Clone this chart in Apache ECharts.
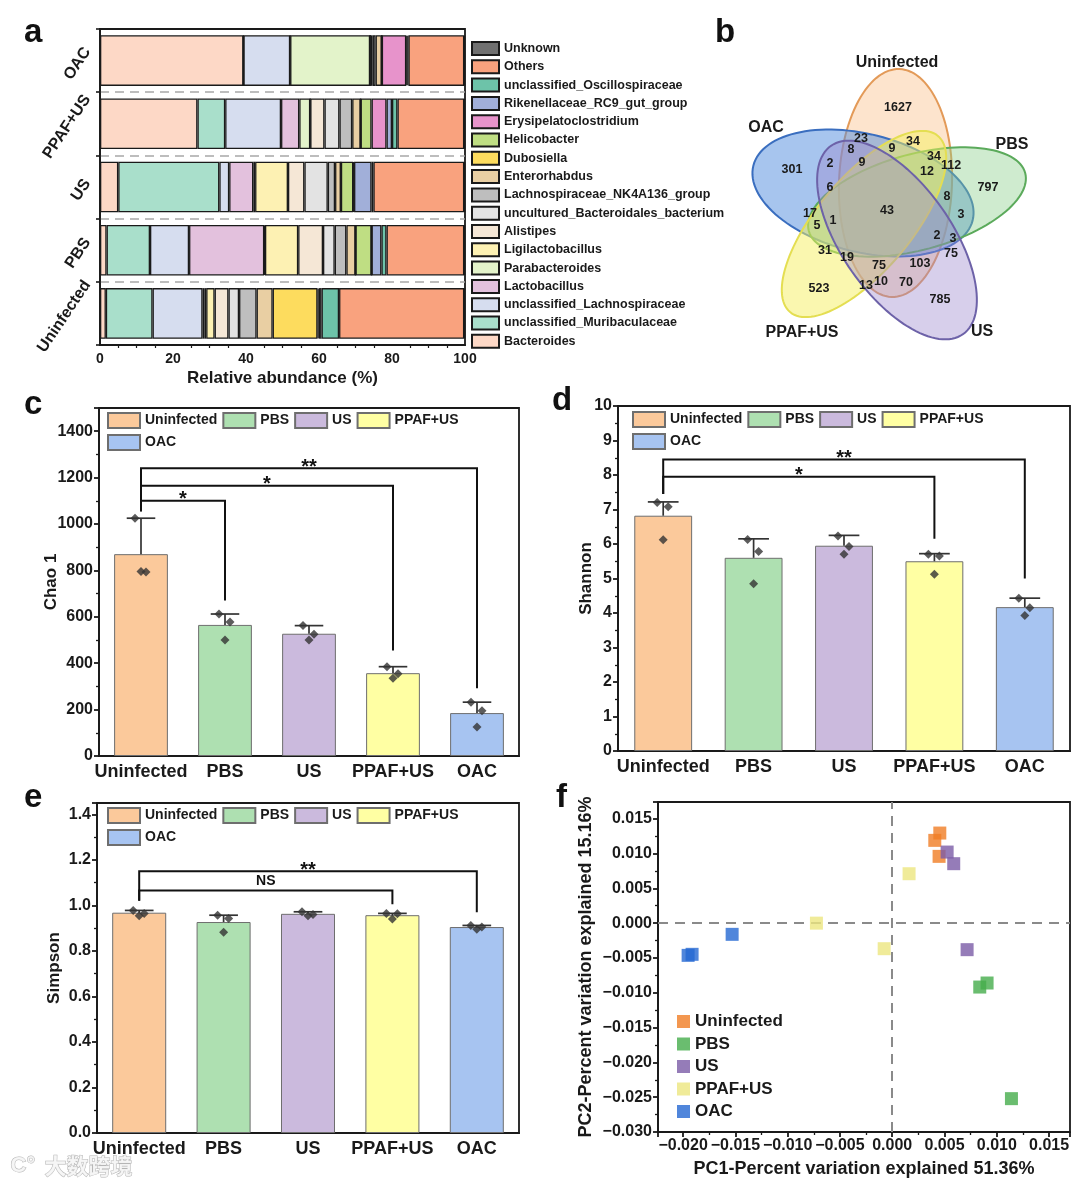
<!DOCTYPE html>
<html><head><meta charset="utf-8">
<script src="https://cdn.jsdelivr.net/npm/echarts@6/dist/echarts.min.js"></script>
<style>html,body{margin:0;padding:0;background:#fff}#c{width:1080px;height:1188px}</style>
</head><body><div id="c"></div>
<script>
const FONT = '"Liberation Sans", Arial, Helvetica, sans-serif';
const INK = '#1a1a1a';

// ---------- Panel a : relative abundance (%) ----------
const groupsA = ['Uninfected', 'PBS', 'US', 'PPAF+US', 'OAC'];
const taxa = ['Bacteroides', 'unclassified_Muribaculaceae', 'unclassified_Lachnospiraceae', 'Lactobacillus',
  'Parabacteroides', 'Ligilactobacillus', 'Alistipes', 'uncultured_Bacteroidales_bacterium',
  'Lachnospiraceae_NK4A136_group', 'Enterorhabdus', 'Dubosiella', 'Helicobacter', 'Erysipelatoclostridium',
  'Rikenellaceae_RC9_gut_group', 'unclassified_Oscillospiraceae', 'Others', 'Unknown'];
const taxaColors = ['#FDD8C6', '#A9DFCB', '#D6DDEF', '#E3C1DD', '#E3F3CA', '#FDF1B3', '#F5E7D6', '#E3E3E3',
  '#BEBEBE', '#E9CFA3', '#FDDC5E', '#BFDE83', '#E793CB', '#A1AFD9', '#6DC3A9', '#F9A27E', '#707070'];
const abUninfected = [1.6, 12.8, 13.7, 0.5, 0.5, 2.3, 3.8, 2.9, 4.8, 4.4, 12.3, 0.3, 0.4, 0.4, 4.8, 34.3, 0.2];
const abPBS        = [1.8, 11.9, 10.7, 20.6, 0.2, 9.1, 6.8, 3.2, 3.2, 2.5, 0.0, 4.4, 0.0, 2.7, 1.4, 21.3, 0.2];
const abUS         = [5.0, 27.7, 2.7, 6.6, 0.5, 9.0, 4.5, 6.4, 2.0, 1.6, 0.0, 3.4, 0.2, 4.8, 0.5, 24.9, 0.2];
const abPPAF       = [26.7, 7.6, 15.3, 5.0, 3.0, 0.0, 3.9, 4.1, 3.5, 2.3, 0.0, 3.0, 4.1, 1.5, 1.5, 18.3, 0.2];
const abOAC        = [39.3, 0.0, 12.8, 0.0, 21.9, 0.0, 0.0, 0.7, 0.8, 1.7, 0.0, 0.0, 6.7, 0.3, 0.3, 15.3, 0.2];

// ---------- Panel b : Venn ----------
const vennSets = ['Uninfected', 'OAC', 'PBS', 'PPAF+US', 'US'];
const vennCounts = [1627, 23, 34, 8, 9, 2, 9, 34, 112, 12, 301, 797, 6, 8, 43, 3, 17, 5, 1, 2, 3, 75, 31, 19, 75, 103, 13, 10, 70, 523, 785];
// layout (venn region label anchor points, local px)
const vennPos = [[178,68],[141,99],[193,102],[131,110],[172,109],[110,124],[142,123],[214,117],[231,126],[207,132],
  [72,130],[268,148],[110,148],[227,157],[167,171],[241,175],[90,174],[97,186],[113,181],[217,196],[233,199],
  [231,214],[105,211],[127,218],[159,226],[200,224],[146,246],[161,242],[186,243],[99,249],[220,260]];
const vennEllipses = [[175.5,143,114,56.5,92],[143,153,113,59,14],[197,162,112,48,-15],[144,184,115,47,-50],[177,200,115,55,55]];
const vennSetLabelPos = [[177,23],[46,88],[292,105],[82,293],[262,292]];
const vennFill = ['rgba(250,196,145,0.45)','rgba(80,140,222,0.50)','rgba(135,205,135,0.40)','rgba(246,240,95,0.50)','rgba(155,135,205,0.40)'];
const vennStroke = ['#E39A58','#3A6EBF','#5BAA5B','#E4DE52','#6D62A8'];

// ---------- Panels c-e : alpha diversity ----------
const groups = ['Uninfected', 'PBS', 'US', 'PPAF+US', 'OAC'];
const barColors = ['#FBC99B', '#AEE0B1', '#CBBADD', '#FFFFA3', '#A7C4F1'];
const chaoMean = [870, 565, 527, 357, 185];
const chaoSD = [155, 47, 35, 28, 47];
const chaoPts = [[1025, 793, 795], [612, 578, 500], [562, 525, 500], [385, 355, 335], [232, 195, 125]];
const chaoSig = [[0, 1, 1100, 1055, 670], [0, 3, 1165, 1055, 455], [0, 4, 1240, 1055, 292]];
const chaoSigText = ['*', '*', '**'];

const shanMean = [6.82, 5.60, 5.95, 5.50, 4.17];
const shanSD = [0.40, 0.55, 0.30, 0.22, 0.26];
const shanPts = [[7.20, 7.08, 6.12], [6.13, 5.78, 4.85], [6.23, 5.93, 5.70], [5.70, 5.65, 5.12], [4.43, 4.15, 3.93]];
const shanSig = [[0, 3, 7.95, 7.45, 6.15], [0, 4, 8.45, 7.45, 5.0]];
const shanSigText = ['*', '**'];

const simpMean = [0.968, 0.927, 0.963, 0.957, 0.905];
const simpSD = [0.010, 0.030, 0.009, 0.008, 0.007];
const simpPts = [[0.978, 0.965, 0.955], [0.957, 0.942, 0.882], [0.972, 0.960, 0.955], [0.965, 0.963, 0.940], [0.912, 0.905, 0.895]];
const simpSig = [[0, 3, 1.065, 1.02, 1.005], [0, 4, 1.15, 1.02, 0.97]];
const simpSigText = ['NS', '**'];

// ---------- Panel f : PCoA ----------
const pcGroups = ['Uninfected', 'PBS', 'US', 'PPAF+US', 'OAC'];
const pcColors = ['#F07D24', '#45AD4B', '#7B5BA6', '#ECE680', '#2468D2'];
const pcUninfected = [[0.00455, 0.01294], [0.00407, 0.01189], [0.00448, 0.00959]];
const pcPBS = [[0.00837, -0.00918], [0.00907, -0.00860], [0.01140, -0.02521]];
const pcUS = [[0.00525, 0.01021], [0.00588, 0.00854], [0.00716, -0.00381]];
const pcPPAF = [[0.00161, 0.00710], [-0.00725, 0.00000], [-0.00077, -0.00367]];
const pcOAC = [[-0.01952, -0.00463], [-0.01914, -0.00448], [-0.01531, -0.00161]];

// ================= build option =================
const JIT = [-6, 5, 0];
const bold = (size, extra) => Object.assign({fontFamily: FONT, fontWeight: 'bold', fontSize: size, color: INK}, extra || {});
const axLine = {show: true, onZero: false, lineStyle: {color: INK, width: 1.8}};
const measureCtx = document.createElement('canvas').getContext('2d');
function textWidth(t, font) { measureCtx.font = font; return measureCtx.measureText(t).width; }
const pcFmt = v => Math.abs(v) < 1e-9 ? '0.000' : (v < 0 ? '\u2212' : '') + Math.abs(v).toFixed(3);

const grids = [
  {left: 100, top: 29, width: 365, height: 316, show: true, borderColor: INK, borderWidth: 1.8},
  {left: 720, top: 40, width: 360, height: 310},
  {left: 99, top: 408, width: 420, height: 348, show: true, borderColor: INK, borderWidth: 1.8},
  {left: 618, top: 406, width: 452, height: 345, show: true, borderColor: INK, borderWidth: 1.8},
  {left: 97, top: 803, width: 422, height: 330, show: true, borderColor: INK, borderWidth: 1.8},
  {left: 658, top: 802, width: 412, height: 330, show: true, borderColor: INK, borderWidth: 1.8}
].map(g => Object.assign({containLabel: false, outerBoundsMode: 'none', backgroundColor: 'transparent'}, g));

function catX(gi) {
  return {gridIndex: gi, type: 'category', data: groups, axisLine: axLine,
    axisTick: {alignWithLabel: true, length: 5, lineStyle: {width: 1.8, color: INK}},
    axisLabel: Object.assign(bold(18), {interval: 0, margin: 7}), splitLine: {show: false}};
}
function valY(gi, max, interval, name, gap, fmt, showMax) {
  return {gridIndex: gi, type: 'value', min: 0, max: max, interval: interval, axisLine: axLine,
    axisTick: {show: true, length: 5, lineStyle: {width: 1.8, color: INK}},
    minorTick: {show: true, splitNumber: 2, length: 3, lineStyle: {width: 1.3, color: INK}},
    splitLine: {show: false},
    axisLabel: Object.assign(bold(16), {margin: 6, showMaxLabel: showMax, formatter: fmt}),
    name: name, nameLocation: 'middle', nameGap: gap, nameMoveOverlap: false, nameTextStyle: bold(17)};
}

const xAxes = [
  {gridIndex: 0, type: 'value', min: 0, max: 100, interval: 20, axisLine: axLine,
    axisTick: {length: 5, lineStyle: {width: 1.6, color: INK}},
    minorTick: {show: true, splitNumber: 4, length: 3, lineStyle: {width: 1.2, color: INK}},
    splitLine: {show: false}, axisLabel: Object.assign(bold(14), {margin: 7}),
    name: 'Relative abundance (%)', nameLocation: 'middle', nameGap: 25, nameTextStyle: bold(17)},
  {gridIndex: 1, type: 'value', min: 0, max: 360, show: false},
  catX(2), catX(3), catX(4),
  {gridIndex: 5, type: 'value', min: -0.0224, max: 0.0170, splitNumber: 7, axisLine: axLine,
    axisTick: {length: 5, lineStyle: {width: 1.8, color: INK}},
    minorTick: {show: true, splitNumber: 2, length: 3, lineStyle: {width: 1.3, color: INK}},
    splitLine: {show: false},
    axisLabel: Object.assign(bold(16), {margin: 6, showMinLabel: false, showMaxLabel: false, formatter: pcFmt}),
    name: 'PC1-Percent variation explained 51.36%', nameLocation: 'middle', nameGap: 28, nameTextStyle: bold(18)}
];
const yAxes = [
  {gridIndex: 0, type: 'category', data: groupsA, axisLine: axLine,
    axisTick: {show: true, length: 4, lineStyle: {width: 1.6, color: INK}},
    splitLine: {show: true, showMinLine: false, showMaxLine: false, lineStyle: {color: '#a8a8a8', width: 1.6, type: [9, 6]}},
    axisLabel: {show: false}},
  {gridIndex: 1, type: 'value', min: 0, max: 310, inverse: true, show: false},
  valY(2, 1500, 200, 'Chao 1', 39, v => String(v), false),
  valY(3, 10, 1, 'Shannon', 23, v => String(v), true),
  valY(4, 1.45, 0.2, 'Simpson', 34, v => v.toFixed(1), false),
  {gridIndex: 5, type: 'value', min: -0.030, max: 0.0174, interval: 0.005, axisLine: axLine,
    axisTick: {length: 5, lineStyle: {width: 1.8, color: INK}},
    minorTick: {show: true, splitNumber: 2, length: 3, lineStyle: {width: 1.3, color: INK}},
    splitLine: {show: false},
    axisLabel: Object.assign(bold(16), {margin: 6, showMaxLabel: false, formatter: pcFmt}),
    name: 'PC2-Percent variation explained 15.16%', nameLocation: 'middle', nameGap: 63, nameMoveOverlap: false,
    nameTextStyle: bold(18)}
];

const series = [];

// panel a stacked bars
const abByGroup = [abUninfected, abPBS, abUS, abPPAF, abOAC];
taxa.forEach((t, ti) => {
  series.push({name: t, type: 'bar', stack: 'abund', xAxisIndex: 0, yAxisIndex: 0, barWidth: '80%',
    itemStyle: {color: taxaColors[ti], borderColor: '#1a1a1a', borderWidth: 1.3},
    data: abByGroup.map(arr => arr[ti]), z: 3});
});
// panel a rotated category labels (bbox right-aligned to the axis, centred on the category)
series.push({type: 'custom', name: 'a-labels', xAxisIndex: 0, yAxisIndex: 0, silent: true, clip: false,
  data: groupsA.map((g, i) => [0, i]),
  renderItem: (params, api) => {
    const p = api.coord([0, api.value(1)]);
    const txt = groupsA[params.dataIndex];
    const fs = 16, th = 56 * Math.PI / 180;
    const L = textWidth(txt, 'bold ' + fs + 'px ' + FONT);
    const w = L * Math.cos(th) + fs * 0.85 * Math.sin(th);
    return {type: 'text', x: p[0] - 7 - w / 2, y: p[1] + 3, rotation: th,
      style: {text: txt, fontFamily: FONT, fontWeight: 'bold', fontSize: fs, fill: INK,
        align: 'center', verticalAlign: 'middle'}};
  }, z: 5});

// panel b venn
series.push({type: 'custom', name: 'venn-ellipses', xAxisIndex: 1, yAxisIndex: 1, silent: true,
  data: vennEllipses,
  renderItem: (params, api) => {
    const c = api.coord([api.value(0), api.value(1)]);
    const sz = api.size([api.value(2), api.value(3)]);
    const a = sz[0], b = sz[1], th = api.value(4) * Math.PI / 180;
    const pts = [];
    for (let k = 0; k < 120; k++) {
      const t = k / 120 * 2 * Math.PI;
      const ex = a * Math.cos(t), ey = b * Math.sin(t);
      pts.push([c[0] + ex * Math.cos(th) - ey * Math.sin(th), c[1] + ex * Math.sin(th) + ey * Math.cos(th)]);
    }
    return {type: 'polygon', shape: {points: pts},
      style: {fill: vennFill[params.dataIndex], stroke: vennStroke[params.dataIndex], lineWidth: 2}};
  }, z: 2});
series.push({type: 'custom', name: 'venn-counts', xAxisIndex: 1, yAxisIndex: 1, silent: true,
  data: vennCounts.map((v, i) => [vennPos[i][0], vennPos[i][1], v]),
  renderItem: (params, api) => {
    const c = api.coord([api.value(0), api.value(1)]);
    return {type: 'text', x: c[0], y: c[1], style: {text: String(api.value(2)), fontFamily: FONT,
      fontWeight: 'bold', fontSize: 12.5, fill: INK, align: 'center', verticalAlign: 'middle'}};
  }, z: 4});
series.push({type: 'custom', name: 'venn-sets', xAxisIndex: 1, yAxisIndex: 1, silent: true,
  data: vennSets.map((s, i) => [vennSetLabelPos[i][0], vennSetLabelPos[i][1]]),
  renderItem: (params, api) => {
    const c = api.coord([api.value(0), api.value(1)]);
    return {type: 'text', x: c[0], y: c[1], style: {text: vennSets[params.dataIndex], fontFamily: FONT,
      fontWeight: 'bold', fontSize: 16, fill: INK, align: 'center', verticalAlign: 'middle'}};
  }, z: 4});

// panels c-e
function addDiversity(prefix, gi, mean, sd, pts, sig, sigText) {
  groups.forEach((g, i) => {
    series.push({name: prefix + '|' + g, type: 'bar', stack: prefix, xAxisIndex: gi, yAxisIndex: gi, barWidth: '64%',
      itemStyle: {color: barColors[i], borderColor: '#6e6e6e', borderWidth: 1},
      data: mean.map((v, j) => j === i ? v : '-'), z: 2});
  });
  series.push({name: prefix + '|err', type: 'custom', xAxisIndex: gi, yAxisIndex: gi, silent: true,
    data: mean.map((m, i) => [i, m, m + sd[i]]),
    renderItem: (params, api) => {
      const p0 = api.coord([api.value(0), api.value(1)]);
      const p1 = api.coord([api.value(0), api.value(2)]);
      const hw = api.size([1, 0])[0] * 0.17;
      const st = {stroke: '#333', lineWidth: 1.7};
      return {type: 'group', children: [
        {type: 'line', shape: {x1: p0[0], y1: p0[1], x2: p1[0], y2: p1[1]}, style: st},
        {type: 'line', shape: {x1: p1[0] - hw, y1: p1[1], x2: p1[0] + hw, y2: p1[1]}, style: st}]};
    }, z: 4});
  const pdata = [];
  pts.forEach((arr, i) => arr.forEach((v, k) => pdata.push({value: [i, v], symbolOffset: [JIT[k], 0]})));
  series.push({name: prefix + '|pts', type: 'scatter', xAxisIndex: gi, yAxisIndex: gi, symbol: 'diamond',
    symbolSize: 9, itemStyle: {color: '#333'}, data: pdata, z: 5, silent: true});
  series.push({name: prefix + '|sig', type: 'custom', xAxisIndex: gi, yAxisIndex: gi, silent: true,
    data: sig,
    renderItem: (params, api) => {
      const f = api.value(0), t = api.value(1);
      const tl = api.coord([f, api.value(2)]), tr = api.coord([t, api.value(2)]);
      const lb = api.coord([f, api.value(3)]), rb = api.coord([t, api.value(4)]);
      const txt = sigText[params.dataIndex];
      const star = txt.indexOf('*') >= 0;
      return {type: 'group', children: [
        {type: 'polyline', shape: {points: [lb, tl, tr, rb]}, style: {stroke: '#111', lineWidth: 2, fill: null}},
        {type: 'text', x: (tl[0] + tr[0]) / 2, y: star ? tl[1] - 1 : tl[1] - 2,
          style: {text: txt, fontFamily: FONT, fontWeight: 'bold', fontSize: star ? 20 : 14, fill: '#111',
            align: 'center', verticalAlign: star ? 'middle' : 'bottom'}}]};
    }, z: 4});
}
addDiversity('c', 2, chaoMean, chaoSD, chaoPts, chaoSig, chaoSigText);
addDiversity('d', 3, shanMean, shanSD, shanPts, shanSig, shanSigText);
addDiversity('e', 4, simpMean, simpSD, simpPts, simpSig, simpSigText);

// panel f
const pcData = [pcUninfected, pcPBS, pcUS, pcPPAF, pcOAC];
pcGroups.forEach((g, i) => {
  const s = {name: 'f|' + g, type: 'scatter', xAxisIndex: 5, yAxisIndex: 5, symbol: 'rect', symbolSize: 13,
    itemStyle: {color: pcColors[i]}, data: pcData[i], z: 5};
  if (i === 0) {
    s.markLine = {silent: true, symbol: 'none', label: {show: false},
      lineStyle: {color: '#8a8a8a', width: 2, type: [10, 7]}, data: [{xAxis: 0}, {yAxis: 0}], z: 1};
  }
  series.push(s);
});

const stripName = n => n.split('|')[1];
function divLegend(prefix, left, top) {
  return {data: groups.map(g => prefix + '|' + g), left: left, top: top, width: 360, orient: 'horizontal',
    icon: 'rect', itemWidth: 32, itemHeight: 15, itemGap: 5, itemTextGap: 5, padding: 0,
    formatter: stripName, textStyle: bold(14, {lineHeight: 15}), selectedMode: false};
}

const legends = [
  {data: taxa.slice().reverse(), orient: 'vertical', left: 471, top: 41, icon: 'rect', itemWidth: 27, itemHeight: 13,
    itemGap: 3.3, itemTextGap: 5, padding: 0, textStyle: bold(12.5, {lineHeight: 13}), selectedMode: false},
  divLegend('c', 107, 412),
  divLegend('d', 632, 411),
  divLegend('e', 107, 807),
  {data: pcGroups.map(g => 'f|' + g), orient: 'vertical', left: 677, top: 1013, icon: 'rect', itemWidth: 13,
    itemHeight: 13, itemGap: 5.5, itemTextGap: 18, padding: 0, formatter: stripName,
    textStyle: bold(17, {lineHeight: 17}), selectedMode: false}
];

const letter = (t, x, y) => ({type: 'text', left: x, top: y, style: {text: t, fontFamily: FONT, fontWeight: 'bold', fontSize: 33, fill: '#111'}});
const option = {
  animation: false,
  backgroundColor: '#fff',
  grid: grids, xAxis: xAxes, yAxis: yAxes, legend: legends, series: series,
  graphic: [
    letter('a', 24, 16), letter('b', 715, 16), letter('c', 24, 388), letter('d', 552, 384),
    letter('e', 24, 781), letter('f', 556, 781),
    {type: 'text', left: 44, top: 1154, style: {text: '大数跨境', fontFamily: '"Noto Sans CJK SC"', fontWeight: 'bold',
      fontSize: 22, fill: 'rgba(245,245,245,0.9)', stroke: '#b5b5b5', lineWidth: 1}},
    {type: 'text', left: 10, top: 1154, style: {text: 'C\u00B0', fontFamily: FONT, fontWeight: 'bold',
      fontSize: 22, fill: 'rgba(245,245,245,0.9)', stroke: '#b5b5b5', lineWidth: 1}}
  ]
};
const chart = echarts.init(document.getElementById('c'));
chart.setOption(option);
</script></body></html>
